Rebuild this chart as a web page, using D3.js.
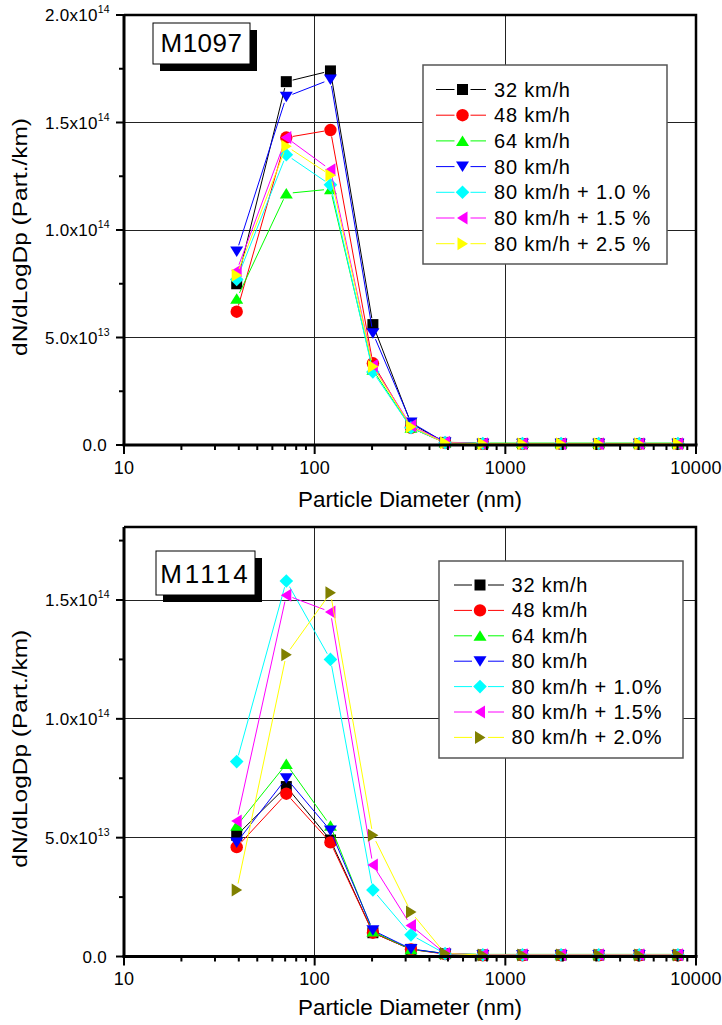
<!DOCTYPE html>
<html>
<head>
<meta charset="utf-8">
<script src="https://cdn.jsdelivr.net/npm/d3@7/dist/d3.min.js"></script>
<style>
  html, body { margin: 0; padding: 0; background: #fff; }
  svg { display: block; font-family: "Liberation Sans", Arial, sans-serif; }
</style>
</head>
<body>
<svg id="chart" width="722" height="1025"></svg>
<script>
// Particle diameters (nm) of the impactor stages
const diameters = [39, 71, 121, 202, 320, 483, 762, 1230, 1960, 3090, 5040, 8040];

// Engine M1097 — dN/dLogDp (particles/km)
const m1097_32 = [7.5e13, 1.69e14, 1.74e14, 5.6e13, 1.0e13, 1.2e12, 6e11, 6e11, 6e11, 6e11, 6e11, 6e11];
const m1097_48 = [6.2e13, 1.43e14, 1.465e14, 3.8e13, 8.0e12, 1.0e12, 5e11, 5e11, 5e11, 5e11, 5e11, 5e11];
const m1097_64 = [6.8e13, 1.17e14, 1.19e14, 3.5e13, 8.0e12, 1.3e12, 9e11, 9e11, 9e11, 9e11, 9e11, 9e11];
const m1097_80 = [9.0e13, 1.62e14, 1.70e14, 5.2e13, 1.05e13, 1.2e12, 6e11, 6e11, 6e11, 6e11, 6e11, 6e11];
const m1097_80p10 = [7.7e13, 1.35e14, 1.21e14, 3.4e13, 8.0e12, 1.1e12, 7e11, 7e11, 7e11, 7e11, 7e11, 7e11];
const m1097_80p15 = [8.1e13, 1.43e14, 1.28e14, 3.7e13, 9.0e12, 1.3e12, 6e11, 6e11, 6e11, 6e11, 6e11, 6e11];
const m1097_80p25 = [7.9e13, 1.39e14, 1.255e14, 3.65e13, 8.5e12, 1.0e12, 6e11, 6e11, 6e11, 6e11, 6e11, 6e11];
const m1097Labels = ["32 km/h", "48 km/h", "64 km/h", "80 km/h", "80 km/h + 1.0 %", "80 km/h + 1.5 %", "80 km/h + 2.5 %"];

// Engine M1114 — dN/dLogDp (particles/km)
const m1114_32 = [5.1e13, 7.15e13, 4.9e13, 1.0e13, 3.0e12, 1.2e12, 6e11, 6e11, 6e11, 6e11, 6e11, 6e11];
const m1114_48 = [4.6e13, 6.85e13, 4.8e13, 1.0e13, 3.0e12, 1.0e12, 5e11, 5e11, 5e11, 5e11, 5e11, 5e11];
const m1114_64 = [5.5e13, 8.1e13, 5.5e13, 1.05e13, 3.0e12, 1.3e12, 9e11, 9e11, 9e11, 9e11, 9e11, 9e11];
const m1114_80 = [4.8e13, 7.5e13, 5.3e13, 1.1e13, 3.2e12, 1.2e12, 6e11, 6e11, 6e11, 6e11, 6e11, 6e11];
const m1114_80p10 = [8.2e13, 1.58e14, 1.25e14, 2.8e13, 9.1e12, 1.2e12, 7e11, 7e11, 7e11, 7e11, 7e11, 7e11];
const m1114_80p15 = [5.7e13, 1.52e14, 1.45e14, 3.85e13, 1.3e13, 1.3e12, 7e11, 7e11, 7e11, 7e11, 7e11, 7e11];
const m1114_80p20 = [2.8e13, 1.27e14, 1.53e14, 5.1e13, 1.87e13, 1.3e12, 6e11, 6e11, 6e11, 6e11, 6e11, 6e11];
const m1114Labels = ["32 km/h", "48 km/h", "64 km/h", "80 km/h", "80 km/h + 1.0%", "80 km/h + 1.5%", "80 km/h + 2.0%"];

// Axis ticks
const xMajorTicks = [10, 100, 1000, 10000];
const xTickLabels = ["10", "100", "1000", "10000"];
const yMajorTicks = [0, 5e13, 1e14, 1.5e14, 2e14];

// Series styling: marker shape, marker colour, line colour
const styles = [
  { shape: "square",   fill: "#000000", line: "#000000" },
  { shape: "circle",   fill: "#ff0000", line: "#ff0000" },
  { shape: "up",       fill: "#00ff00", line: "#00ff00" },
  { shape: "down",     fill: "#0000ff", line: "#0000ff" },
  { shape: "diamond",  fill: "#00ffff", line: "#00ffff" },
  { shape: "left",     fill: "#ff00ff", line: "#ff00ff" },
  { shape: "right",    fill: "#ffff00", line: "#ffff00" }
];

const svg = d3.select("#chart");

function markerPath(shape) {
  const p = d3.path();
  switch (shape) {
    case "square":  p.rect(-5.5, -5.5, 11, 11); break;
    case "circle":  p.arc(0, 0, 6.2, 0, 2 * Math.PI); break;
    case "up":      p.moveTo(0, -5.5); p.lineTo(6.5, 5); p.lineTo(-6.5, 5); p.closePath(); break;
    case "down":    p.moveTo(0, 5.5); p.lineTo(6.5, -5); p.lineTo(-6.5, -5); p.closePath(); break;
    case "diamond": p.moveTo(0, -6.8); p.lineTo(6.8, 0); p.lineTo(0, 6.8); p.lineTo(-6.8, 0); p.closePath(); break;
    case "left":    p.moveTo(-5.5, 0); p.lineTo(5, -6.5); p.lineTo(5, 6.5); p.closePath(); break;
    case "right":   p.moveTo(5.5, 0); p.lineTo(-5, -6.5); p.lineTo(-5, 6.5); p.closePath(); break;
  }
  return p.toString();
}

function yLabel(g, v, x, y) {
  const t = g.append("text").attr("x", x).attr("y", y + 6)
    .attr("text-anchor", "end").attr("font-size", 17).attr("letter-spacing", 0.3).attr("fill", "#000");
  if (v === 0) { t.text("0.0"); return; }
  const e = Math.floor(Math.log10(v));
  const m = v / Math.pow(10, e);
  t.append("tspan").text(m.toFixed(1) + "x10");
  t.append("tspan").attr("dy", -8).attr("font-size", 10.5).text(String(e));
}

function drawPanel(cfg) {
  const x = d3.scaleLog().domain([10, 10000]).range([124, 696]);
  const y = d3.scaleLinear().domain([0, cfg.yMax]).range([cfg.bottom, cfg.top]);
  const g = svg.append("g");

  // grid
  const grid = g.append("g").attr("stroke", "#222").attr("stroke-width", 1).attr("shape-rendering", "crispEdges");
  [100, 1000].forEach(v => grid.append("line").attr("x1", x(v)).attr("x2", x(v)).attr("y1", cfg.top).attr("y2", cfg.bottom));
  yMajorTicks.filter(v => v > 0 && y(v) > cfg.top + 3).forEach(v =>
    grid.append("line").attr("x1", x(10)).attr("x2", x(10000)).attr("y1", y(v)).attr("y2", y(v)));

  // label box with drop shadow
  g.append("rect").attr("x", cfg.tag.x + 7).attr("y", cfg.tag.y + 7).attr("width", cfg.tag.w).attr("height", cfg.tag.h).attr("fill", "#000");
  g.append("rect").attr("x", cfg.tag.x).attr("y", cfg.tag.y).attr("width", cfg.tag.w).attr("height", cfg.tag.h)
    .attr("fill", "#fff").attr("stroke", "#000").attr("stroke-width", 1);
  g.append("text").attr("x", cfg.tag.x + cfg.tag.w / 2).attr("y", cfg.tag.y + cfg.tag.base)
    .attr("text-anchor", "middle").attr("font-size", 26).attr("letter-spacing", cfg.tag.ls).text(cfg.tag.text);

  // legend
  const L = cfg.legend;
  const lg = g.append("g");
  lg.append("rect").attr("x", L.x).attr("y", L.y).attr("width", L.w).attr("height", L.h)
    .attr("fill", "#fff").attr("stroke", "#555").attr("stroke-width", 1.5);
  cfg.labels.forEach((lab, i) => {
    const st = cfg.styles[i];
    const cy = L.y + L.first + i * L.step;
    const mx = L.x + L.mx;
    lg.append("line").attr("x1", L.x + L.lx0).attr("x2", mx - 8).attr("y1", cy).attr("y2", cy).attr("stroke", st.line).attr("stroke-width", 1);
    lg.append("line").attr("x1", mx + 8).attr("x2", L.x + L.lx1).attr("y1", cy).attr("y2", cy).attr("stroke", st.line).attr("stroke-width", 1);
    lg.append("path").attr("d", markerPath(st.shape)).attr("transform", `translate(${mx},${cy})`).attr("fill", st.fill);
    lg.append("text").attr("x", L.x + L.tx).attr("y", cy + 7).attr("font-size", 20).attr("letter-spacing", 0.8).text(lab);
  });

  // series
  const gap = 6.5;
  cfg.series.forEach((vals, i) => {
    const st = cfg.styles[i];
    const pts = vals.map((v, j) => [x(diameters[j]), y(v)]);
    const sg = g.append("g");
    for (let j = 0; j < pts.length - 1; j++) {
      const [x1, y1] = pts[j], [x2, y2] = pts[j + 1];
      const len = Math.hypot(x2 - x1, y2 - y1);
      if (len <= 2 * gap) continue;
      const ux = (x2 - x1) / len, uy = (y2 - y1) / len;
      sg.append("line").attr("x1", x1 + ux * gap).attr("y1", y1 + uy * gap)
        .attr("x2", x2 - ux * gap).attr("y2", y2 - uy * gap)
        .attr("stroke", st.line).attr("stroke-width", 1);
    }
    sg.selectAll("path").data(pts).join("path")
      .attr("d", markerPath(st.shape))
      .attr("transform", d => `translate(${d[0]},${d[1]})`)
      .attr("fill", st.fill);
  });

  // frame and axes
  const ax = g.append("g").attr("stroke", "#000").attr("fill", "none");
  ax.append("path").attr("d", `M${x(10)},${cfg.top}H${x(10000)}V${cfg.bottom}`).attr("stroke-width", 2.5);
  ax.append("line").attr("x1", x(10)).attr("x2", x(10)).attr("y1", cfg.top).attr("y2", cfg.bottom + 1).attr("stroke-width", 3);
  ax.append("line").attr("x1", x(10) - 1.5).attr("x2", x(10000) + 1.5).attr("y1", cfg.bottom).attr("y2", cfg.bottom).attr("stroke-width", 3);

  // x ticks
  const minor = [];
  [10, 100, 1000].forEach(d => { for (let k = 2; k <= 9; k++) minor.push(d * k); });
  minor.forEach(v => ax.append("line").attr("x1", x(v)).attr("x2", x(v)).attr("y1", cfg.bottom).attr("y2", cfg.bottom + 5).attr("stroke-width", 2));
  xMajorTicks.forEach(v => ax.append("line").attr("x1", x(v)).attr("x2", x(v)).attr("y1", cfg.bottom).attr("y2", cfg.bottom + 9).attr("stroke-width", 2));
  xMajorTicks.forEach((v, i) => g.append("text").attr("x", x(v)).attr("y", cfg.bottom + 28.5)
    .attr("text-anchor", "middle").attr("font-size", 18).attr("letter-spacing", 0.3).text(xTickLabels[i]));

  // y ticks
  const yStep = 2.5e13;
  for (let v = 0; v <= cfg.yMax + 1; v += yStep) {
    const isMajor = Math.round(v / yStep) % 2 === 0;
    ax.append("line").attr("x1", x(10) - (isMajor ? 8 : 5)).attr("x2", x(10)).attr("y1", y(v)).attr("y2", y(v)).attr("stroke-width", 2);
    if (isMajor) yLabel(g, v, v === 0 ? 107 : 110, y(v));
  }

  // axis titles
  g.append("text").attr("x", (x(10) + x(10000)) / 2).attr("y", cfg.bottom + cfg.xTitleOff)
    .attr("text-anchor", "middle").attr("font-size", 22).attr("textLength", 224).attr("lengthAdjust", "spacingAndGlyphs")
    .text("Particle Diameter (nm)");
  const cy = (cfg.top + cfg.bottom) / 2 + 7;
  g.append("text").attr("transform", `translate(27,${cy}) rotate(-90)`)
    .attr("text-anchor", "middle").attr("font-size", 21).attr("textLength", 238).attr("lengthAdjust", "spacingAndGlyphs")
    .text("dN/dLogDp (Part./km)");
}

drawPanel({
  top: 15, bottom: 445, yMax: 2e14,
  series: [m1097_32, m1097_48, m1097_64, m1097_80, m1097_80p10, m1097_80p15, m1097_80p25],
  labels: m1097Labels,
  styles: styles,
  tag: { x: 153, y: 23, w: 97, h: 41, base: 29, text: "M1097", ls: 0.5 },
  legend: { x: 423, y: 65, w: 244, h: 199, first: 24.5, step: 25.7, lx0: 13, lx1: 63, mx: 39.5, tx: 71 },
  xTitleOff: 62
});

drawPanel({
  top: 527, bottom: 956.5, yMax: 1.5e14 * (956.5 - 527) / (956.5 - 600),
  series: [m1114_32, m1114_48, m1114_64, m1114_80, m1114_80p10, m1114_80p15, m1114_80p20],
  labels: m1114Labels,
  styles: styles.map((s, i) => i === 6 ? { shape: "right", fill: "#808000", line: "#ffff00" } : s),
  tag: { x: 156, y: 551, w: 99, h: 44, base: 32, text: "M1114", ls: 3 },
  legend: { x: 439, y: 561, w: 244, h: 197, first: 24, step: 25.4, lx0: 15, lx1: 65, mx: 41, tx: 72.5 },
  xTitleOff: 58.5
});
</script>
</body>
</html>
